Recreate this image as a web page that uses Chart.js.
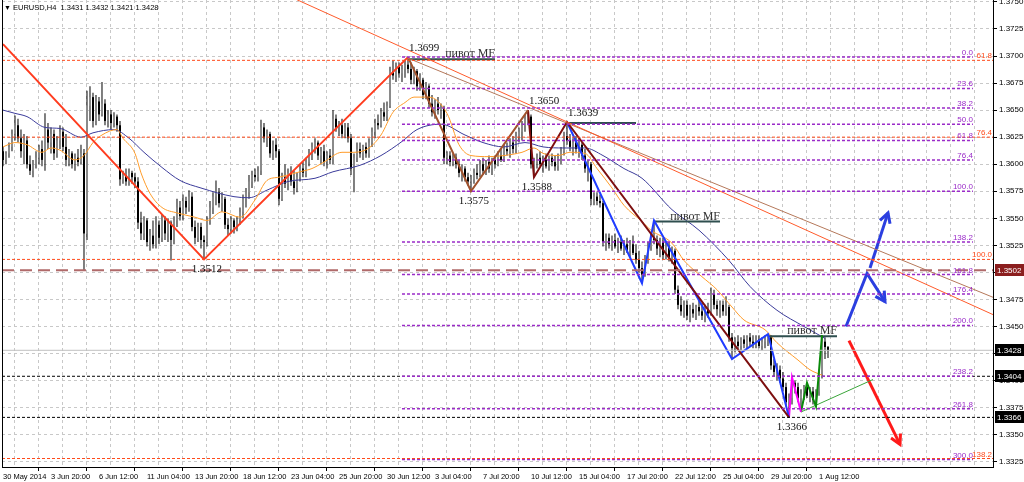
<!DOCTYPE html>
<html>
<head>
<meta charset="utf-8">
<script src="https://cdn.jsdelivr.net/npm/chart.js@4.4.1/dist/chart.umd.min.js"></script>
<style>
html, body { margin: 0; padding: 0; background: #fff; }
</style>
</head>
<body>
<canvas id="grafico" width="1024" height="482"></canvas>
<script>
// EURUSD H4, prices in pips above 1.0000 (3616 -> 1.3616)
const opens = [
3612,3604,3610,3616,3628,3636,3624,3612,3622,3600, 3594,3600,3606,3614,3604,3632,3620,3628,3610,3622,
3630,3616,3604,3610,3600,3606,3602,3610,3536,3654, 3662,3640,3658,3646,3656,3640,3646,3638,3644,3636,
3586,3590,3584,3592,3588,3584,3546,3536,3548,3528, 3534,3526,3544,3532,3548,3536,3546,3530,3548,3560,
3552,3566,3560,3570,3542,3532,3542,3530,3528,3548, 3560,3570,3574,3564,3568,3544,3540,3548,3542,3548,
3556,3568,3574,3584,3590,3588,3594,3634,3624,3628, 3610,3618,3612,3568,3588,3582,3592,3584,3578,3588,
3596,3592,3602,3610,3616,3620,3608,3612,3602,3608, 3604,3642,3634,3636,3628,3634,3624,3596,3606,3614,
3610,3616,3610,3620,3630,3638,3636,3648,3644,3654, 3686,3682,3690,3684,3688,3692,3688,3678,3686,3672,
3678,3664,3672,3656,3648,3656,3650,3652,3606,3608, 3602,3606,3600,3592,3596,3588,3584,3586,3592,3590,
3600,3594,3602,3596,3604,3600,3608,3604,3614,3612, 3620,3614,3626,3630,3636,3642,3644,3600,3602,3606,
3600,3604,3598,3606,3602,3598,3606,3612,3626,3622, 3616,3620,3614,3618,3608,3596,3600,3568,3570,3566,
3564,3528,3532,3526,3530,3524,3528,3522,3526,3520, 3526,3518,3512,3504,3498,3512,3524,3532,3530,3522,
3528,3516,3524,3514,3520,3484,3470,3464,3470,3460, 3466,3462,3468,3464,3460,3466,3462,3480,3470,3466,
3470,3464,3468,3440,3430,3436,3432,3438,3434,3440, 3436,3434,3438,3432,3436,3438,3440,3414,3408,3410,
3402,3394,3380,3384,3398,3394,3384,3388,3394,3386, 3390,3382,3390,3406,3436,3431
];
const highs = [
3616,3612,3620,3632,3645,3642,3632,3628,3626,3608, 3604,3612,3618,3622,3647,3638,3634,3632,3626,3636,
3634,3628,3614,3612,3610,3614,3618,3614,3668,3672, 3666,3664,3662,3676,3660,3650,3650,3648,3646,3640,
3594,3596,3596,3594,3592,3588,3556,3552,3550,3540, 3548,3552,3548,3554,3552,3550,3548,3552,3568,3566,
3572,3570,3576,3574,3548,3546,3546,3534,3552,3566, 3574,3585,3578,3574,3570,3550,3552,3550,3552,3560,
3572,3578,3590,3594,3596,3598,3641,3638,3632,3630, 3622,3624,3614,3592,3600,3596,3598,3594,3592,3600,
3602,3606,3614,3620,3624,3622,3616,3618,3612,3614, 3650,3646,3640,3642,3638,3638,3628,3610,3620,3620,
3618,3620,3624,3634,3642,3646,3652,3657,3658,3690, 3696,3694,3694,3692,3696,3699,3694,3690,3688,3684,
3680,3676,3674,3664,3660,3662,3656,3654,3612,3612, 3610,3610,3604,3600,3598,3592,3590,3596,3600,3604,
3606,3604,3608,3606,3608,3612,3614,3618,3620,3624, 3626,3630,3634,3640,3646,3650,3646,3606,3610,3612,
3608,3610,3608,3610,3608,3610,3616,3630,3639,3628, 3624,3626,3624,3620,3614,3604,3602,3574,3574,3572,
3566,3536,3536,3534,3536,3532,3534,3530,3532,3530, 3534,3526,3520,3510,3516,3528,3536,3548,3534,3532,
3532,3528,3528,3524,3522,3488,3478,3474,3474,3470, 3472,3470,3474,3472,3470,3472,3486,3484,3474,3474,
3474,3478,3470,3444,3440,3442,3440,3442,3442,3444, 3442,3442,3442,3440,3442,3443,3442,3420,3416,3414,
3408,3398,3388,3403,3400,3398,3392,3396,3398,3394, 3394,3392,3410,3442,3440,3432
];
const lows = [
3598,3600,3606,3612,3622,3620,3606,3600,3596,3590, 3588,3596,3600,3598,3594,3614,3610,3604,3606,3614,
3612,3598,3598,3596,3594,3598,3600,3502,3530,3640, 3634,3636,3640,3644,3636,3634,3632,3634,3630,3580,
3582,3580,3580,3582,3578,3540,3530,3530,3524,3520, 3522,3522,3526,3528,3530,3528,3511,3526,3542,3548,
3548,3554,3556,3538,3526,3528,3522,3512,3524,3544, 3554,3562,3560,3556,3540,3534,3536,3536,3538,3544,
3550,3560,3568,3578,3584,3584,3590,3620,3616,3606, 3604,3606,3562,3566,3578,3576,3580,3572,3574,3584,
3588,3588,3598,3604,3610,3604,3600,3598,3596,3600, 3600,3630,3626,3624,3624,3620,3590,3574,3602,3606,
3604,3606,3606,3616,3624,3632,3634,3640,3640,3652, 3678,3676,3680,3676,3680,3684,3674,3674,3668,3668,
3660,3660,3652,3644,3642,3646,3642,3600,3600,3598, 3598,3596,3588,3584,3584,3580,3575,3582,3586,3588,
3590,3590,3592,3590,3596,3598,3602,3602,3608,3606, 3610,3610,3620,3622,3630,3636,3596,3588,3596,3598,
3592,3596,3594,3598,3594,3594,3600,3608,3618,3612, 3608,3610,3606,3604,3592,3584,3562,3562,3562,3560,
3524,3520,3522,3520,3522,3518,3520,3516,3518,3514, 3516,3508,3500,3490,3496,3508,3520,3526,3516,3514,
3512,3512,3510,3508,3480,3466,3460,3458,3456,3454, 3458,3456,3460,3456,3454,3458,3460,3466,3460,3458,
3460,3460,3436,3420,3426,3428,3428,3430,3430,3432, 3430,3430,3430,3428,3430,3432,3410,3404,3400,3398,
3390,3376,3366,3378,3388,3380,3371,3382,3384,3380, 3378,3376,3386,3402,3420,3421
];
const closes = [
3604,3610,3616,3628,3636,3624,3612,3622,3600,3594, 3600,3606,3614,3604,3632,3620,3628,3610,3622,3630,
3616,3604,3610,3600,3606,3602,3610,3536,3654,3662, 3640,3658,3646,3656,3640,3646,3638,3644,3636,3586,
3590,3584,3592,3588,3584,3546,3536,3548,3528,3534, 3526,3544,3532,3548,3536,3546,3530,3548,3560,3552,
3566,3560,3570,3542,3532,3542,3530,3528,3548,3560, 3570,3574,3564,3568,3544,3540,3548,3542,3548,3556,
3568,3574,3584,3590,3588,3594,3634,3624,3628,3610, 3618,3612,3568,3588,3582,3592,3584,3578,3588,3596,
3592,3602,3610,3616,3620,3608,3612,3602,3608,3604, 3642,3634,3636,3628,3634,3624,3596,3606,3614,3610,
3616,3610,3620,3630,3638,3636,3648,3644,3654,3686, 3682,3690,3684,3688,3692,3688,3678,3686,3672,3678,
3664,3672,3656,3648,3656,3650,3652,3606,3608,3602, 3606,3600,3592,3596,3588,3584,3586,3592,3590,3600,
3594,3602,3596,3604,3600,3608,3604,3614,3612,3620, 3614,3626,3630,3636,3642,3644,3600,3602,3606,3600,
3604,3598,3606,3602,3598,3606,3612,3626,3622,3616, 3620,3614,3618,3608,3596,3600,3568,3570,3566,3564,
3528,3532,3526,3530,3524,3528,3522,3526,3520,3526, 3518,3512,3504,3498,3512,3524,3532,3530,3522,3528,
3516,3524,3514,3520,3484,3470,3464,3470,3460,3466, 3462,3468,3464,3460,3466,3462,3480,3470,3466,3470,
3464,3468,3440,3430,3436,3432,3438,3434,3440,3436, 3434,3438,3432,3436,3438,3440,3414,3408,3410,3402,
3394,3380,3384,3398,3394,3384,3388,3394,3386,3390, 3382,3390,3406,3436,3431,3428
];

// axis labels
const xLabelIdx = [0,16,32,48,64,80,96,112,128,144,160,176,192,208,224,240,256,272];
const xLabels = ['30 May 2014','3 Jun 20:00','6 Jun 12:00','11 Jun 04:00','13 Jun 20:00','18 Jun 12:00',
  '23 Jun 04:00','25 Jun 20:00','30 Jun 12:00','3 Jul 04:00','7 Jul 20:00','10 Jul 12:00',
  '15 Jul 04:00','17 Jul 20:00','22 Jul 12:00','25 Jul 04:00','29 Jul 20:00','1 Aug 12:00'];
const yTicks = [1.3325,1.3350,1.3375,1.3400,1.3425,1.3450,1.3475,1.3500,1.3525,1.3550,
  1.3575,1.3600,1.3625,1.3650,1.3675,1.3700,1.3725,1.3750];

// moving averages
const maFastIdx = [0,4,8,13,16,19,24,27,30,33,38,40,44,46,49,53,58,64,68,73,79,84,88,92,99,103,107,113,117,122,
  126,130,134,137,142,148,152,156,162,167,173,177,180,185,189,194,198,203,207,213,216,223,227,233,238,243,247,254,258,265,269,273];
const maFastVal = [3616,3620,3618,3611,3615,3613,3604,3608,3620,3627,3632,3624,3610,3592,3573,3560,3555,3551,3548,3556,
  3551,3567,3585,3588,3593,3596,3602,3611,3611,3615,3627,3648,3657,3662,3662,3647,3618,3608,3607,3608,3611,3615,
  3610,3608,3611,3610,3596,3578,3562,3547,3539,3527,3511,3496,3484,3468,3456,3447,3435,3419,3410,3405];
const maSlowIdx = [0,4,8,14,19,26,30,37,42,47,53,59,66,77,82,88,95,104,110,119,126,133,138,146,154,160,167,174,180,
  187,194,200,207,213,223,232,242,249,258,267,274];
const maSlowVal = [3650,3647,3644,3634,3633,3625,3629,3632,3624,3611,3597,3585,3578,3570,3569,3576,3584,3587,3593,3599,
  3608,3621,3632,3637,3627,3620,3616,3620,3616,3615,3615,3608,3596,3587,3558,3539,3511,3487,3465,3450,3439];

// waves and trend lines
const redWaveIdx = [0,67,135], redWaveVal = [3711,3512,3699];
const siennaIdx = [135,156,175], siennaVal = [3699,3575,3650];
const maroonIdx = [175,177,188,262], maroonVal = [3650,3588,3639,3366];
const blueIdx = [188,213,217,243,255,262], blueVal = [3639,3490,3548,3420,3443,3366];
const magentaIdx = [262,263,266], magentaVal = [3366,3403,3371];
const greenIdx = [266,268,271,273], greenVal = [3371,3398,3376,3442];
const greenLineIdx = [266,290], greenLineVal = [3371,3401];
const trendOrangeIdx = [98,330], trendOrangeVal = [3752,3461];
const trendBrownIdx = [135,330], trendBrownVal = [3698,3477];

// pivots
const pivotStart = [135,188,217,255], pivotEnd = [164,211,239,278];
const pivotVal = [3697,3638,3547,3441];
const pivotText = ['пивот MF','','пивот MF','пивот MF'];
const markIdx = [135,175,188,156,177,67,262];
const markVal = [3699,3650,3639,3575,3588,3512,3366];
const markSide = ['up','up','up','down','down','down','down'];

// fibo grids
const fibFrom = 133, fibTo = 323.3;
const fibLabels = ['0.0','23.6','38.2','50.0','61.8','76.4','100.0','138.2','161.8','176.4','200.0','238.2','261.8','300.0'];
const fibVals = [3699,3670,3652,3637,3622,3604,3575,3528,3498,3480,3451,3404,3374,3327];
const ofibLabels = ['61.8','76.4','100.0','138.2'];
const ofibVals = [3696,3625,3512,3328];

// horizontal levels
const blackLevels = [3404,3366];
const dashedLevel = 3502;
const bidLevel = 3428;
const boxVals = [3502,3428,3404,3366];
const boxColors = ['#8b1e1e','#000000','#000000','#000000'];

// forecast arrows
const blueArrowAIdx = [281,288,294], blueArrowAVal = [3450,3499,3473];
const blueArrowBIdx = [289,295], blueArrowBVal = [3504,3555];
const redArrowIdx = [282,299], redArrowVal = [3437,3341];

const xMin = -0.33, xMax = 330;
const yMin = 1.332015, yMax = 1.375176;

function P(v) { return 1 + v / 10000; }
function pts(idx, val) { return idx.map(function (x, k) { return { x: x, y: P(val[k]) }; }); }
function hsegs(from, to, vals) {
  var out = [];
  vals.forEach(function (v) { out.push({ x: from, y: P(v) }, { x: to, y: P(v) }, { x: to, y: null }); });
  return out;
}
function linha(data, color, width, extra) {
  return Object.assign({
    type: 'line', data: data, borderColor: color, borderWidth: width,
    pointRadius: 0, fill: false, tension: 0, spanGaps: false, order: 1
  }, extra || {});
}

const wickData = highs.map(function (h, i) { return { x: i, y: [P(lows[i]), P(h)] }; });
const bodyData = opens.map(function (o, i) { return { x: i, y: [P(o), P(closes[i])] }; });
const bodyColors = opens.map(function (o, i) { return closes[i] >= o ? '#8a8a8a' : '#000000'; });

const labelMap = {};
xLabelIdx.forEach(function (v, k) { labelMap[v] = xLabels[k]; });

const SANS = "'Liberation Sans', sans-serif";
const SERIF = "'Liberation Serif', serif";

const overlay = {
  id: 'overlay',
  afterDatasetsDraw(chart) {
    const { ctx, chartArea: a, scales: { x, y } } = chart;
    ctx.save();
    // left frame
    ctx.strokeStyle = '#000'; ctx.lineWidth = 1;
    ctx.beginPath(); ctx.moveTo(a.left + 0.5, a.top); ctx.lineTo(a.left + 0.5, a.bottom); ctx.stroke();

    // arrow heads
    chart.data.datasets.forEach(function (ds, k) {
      if (!ds.arrow) return;
      const el = chart.getDatasetMeta(k).data;
      const p1 = el[el.length - 2], p2 = el[el.length - 1];
      const ang = Math.atan2(p2.y - p1.y, p2.x - p1.x);
      const len = 11;
      ctx.strokeStyle = ds.borderColor; ctx.lineWidth = ds.borderWidth;
      ctx.beginPath();
      ctx.moveTo(p2.x - len * Math.cos(ang - 0.5), p2.y - len * Math.sin(ang - 0.5));
      ctx.lineTo(p2.x, p2.y);
      ctx.lineTo(p2.x - len * Math.cos(ang + 0.5), p2.y - len * Math.sin(ang + 0.5));
      ctx.stroke();
    });

    // fibo labels
    ctx.font = '8px ' + SANS;
    ctx.textAlign = 'right'; ctx.textBaseline = 'alphabetic';
    ctx.fillStyle = '#9a2bc8';
    fibLabels.forEach(function (t, k) { ctx.fillText(t, x.getPixelForValue(fibTo), y.getPixelForValue(P(fibVals[k])) - 2); });
    ctx.fillStyle = '#ff4a1a';
    ofibLabels.forEach(function (t, k) { ctx.fillText(t, a.right - 1, y.getPixelForValue(P(ofibVals[k])) - 2); });

    // pivot captions
    ctx.font = '12px ' + SERIF;
    ctx.fillStyle = '#333';
    pivotText.forEach(function (t, k) {
      if (!t) return;
      ctx.fillText(t, x.getPixelForValue(pivotEnd[k]), y.getPixelForValue(P(pivotVal[k])) - 2);
    });

    // swing prices
    ctx.font = '11px ' + SERIF;
    ctx.fillStyle = '#111';
    markIdx.forEach(function (i, k) {
      const px = x.getPixelForValue(i), py = y.getPixelForValue(P(markVal[k]));
      const txt = P(markVal[k]).toFixed(4);
      if (markSide[k] === 'up') {
        ctx.textAlign = 'left'; ctx.textBaseline = 'bottom';
        ctx.fillText(txt, px + 1, py - 3);
      } else {
        ctx.textAlign = 'center'; ctx.textBaseline = 'top';
        ctx.fillText(txt, px + 3, py + 4);
      }
    });
    ctx.restore();
  },
  afterDraw(chart) {
    const { ctx, chartArea: a, scales: { y } } = chart;
    ctx.save();
    // price boxes on the axis
    ctx.font = '8px ' + SANS;
    ctx.textAlign = 'left'; ctx.textBaseline = 'middle';
    boxVals.forEach(function (v, k) {
      const py = Math.round(y.getPixelForValue(P(v)));
      ctx.fillStyle = boxColors[k];
      ctx.fillRect(a.right + 2, py - 6, 29, 12);
      ctx.fillStyle = '#fff';
      ctx.fillText(P(v).toFixed(4), a.right + 4, py + 0.5);
    });
    // symbol line
    ctx.fillStyle = '#000';
    ctx.font = '7px ' + SANS;
    ctx.fillText('▼', 4, 8);
    ctx.font = '7.5px ' + SANS;
    ctx.fillText('EURUSD,H4  1.3431 1.3432 1.3421 1.3428', 13, 8);
    ctx.restore();
  }
};

const datasets = [
  { type: 'bar', data: wickData, backgroundColor: '#000', borderWidth: 0, barThickness: 1,
    grouped: false, inflateAmount: 0, order: 11 },
  { type: 'bar', data: bodyData, backgroundColor: bodyColors, borderWidth: 0, barThickness: 2,
    grouped: false, inflateAmount: 0, minBarLength: 1, order: 10 },
  linha(pts(maFastIdx, maFastVal), '#ff9c2a', 1, { cubicInterpolationMode: 'monotone', order: 5 }),
  linha(pts(maSlowIdx, maSlowVal), '#3b3b9a', 1, { cubicInterpolationMode: 'monotone', order: 5 }),
  linha(hsegs(xMin, xMax, ofibVals), '#ff4a1a', 1, { borderDash: [3, 2] }),
  linha(hsegs(fibFrom, fibTo, fibVals), '#9a2bc8', 1.5, { borderDash: [3, 2] }),
  linha(hsegs(xMin, xMax, blackLevels), '#000', 1, { borderDash: [3, 2] }),
  linha(hsegs(xMin, xMax, [bidLevel]), '#c0c0c0', 1),
  linha(hsegs(xMin, xMax, [dashedLevel]), '#b06a6a', 2, { borderDash: [12, 6] }),
  linha(pts(trendOrangeIdx, trendOrangeVal), '#ff5a2a', 1),
  linha(pts(trendBrownIdx, trendBrownVal), '#b5785a', 1),
  linha(pts(redWaveIdx, redWaveVal), '#ff3c1f', 2),
  linha(pts(siennaIdx, siennaVal), '#a0522d', 2),
  linha(pts(maroonIdx, maroonVal), '#7d0f0f', 2),
  linha(pts(blueIdx, blueVal), '#1f3cff', 2),
  linha(pts(magentaIdx, magentaVal), '#ff00ff', 2),
  linha(pts(greenIdx, greenVal), '#0a8a0a', 2),
  linha(pts(greenLineIdx, greenLineVal), '#3aa53a', 1),
  linha(pivotStart.reduce(function (acc, s, k) {
    return acc.concat([{ x: s, y: P(pivotVal[k]) }, { x: pivotEnd[k], y: P(pivotVal[k]) }, { x: pivotEnd[k], y: null }]);
  }, []), '#2f4f4f', 2),
  linha(pts(blueArrowAIdx, blueArrowAVal), '#2b3fe0', 3, { arrow: true }),
  linha(pts(blueArrowBIdx, blueArrowBVal), '#2b3fe0', 3, { arrow: true }),
  linha(pts(redArrowIdx, redArrowVal), '#ff1a1a', 3, { arrow: true })
];

const grafico = new Chart(document.getElementById('grafico'), {
  type: 'bar',
  data: { datasets: datasets },
  plugins: [overlay],
  options: {
    responsive: false,
    animation: false,
    devicePixelRatio: 1,
    layout: { padding: { left: 2, top: 0, right: 0, bottom: 0 } },
    plugins: { legend: { display: false }, tooltip: { enabled: false } },
    scales: {
      x: {
        type: 'linear', min: xMin, max: xMax, offset: false,
        afterBuildTicks: function (scale) {
          var t = [];
          for (var i = 0; i <= 328; i += 8) t.push({ value: i });
          scale.ticks = t;
        },
        afterFit: function (scale) { scale.height = 15; scale.paddingLeft = 0; scale.paddingRight = 0; },
        ticks: {
          autoSkip: false, maxRotation: 0, align: 'start', padding: 1, color: '#000',
          font: { family: SANS, size: 7.5 },
          callback: function (v) { return labelMap[v] !== undefined ? labelMap[v] : ''; }
        },
        grid: {
          color: '#c8c8c8', lineWidth: 1, tickLength: 4, tickBorderDash: [],
          tickColor: function (c) { return c.tick && labelMap[c.tick.value] !== undefined ? '#000' : 'rgba(0,0,0,0)'; }
        },
        border: { display: true, color: '#000', width: 1, dash: [3, 3] }
      },
      y: {
        type: 'linear', position: 'right', min: yMin, max: yMax,
        afterBuildTicks: function (scale) { scale.ticks = yTicks.map(function (v) { return { value: v }; }); },
        afterFit: function (scale) { scale.width = 31; scale.paddingTop = 0; scale.paddingBottom = 0; },
        ticks: {
          padding: 2, color: '#000', font: { family: SANS, size: 8 },
          callback: function (v) { return v.toFixed(4); }
        },
        grid: { color: '#c8c8c8', lineWidth: 1, tickLength: 4, tickColor: '#000', tickBorderDash: [] },
        border: { display: true, color: '#000', width: 1, dash: [3, 3] }
      }
    }
  }
});
</script>
</body>
</html>
